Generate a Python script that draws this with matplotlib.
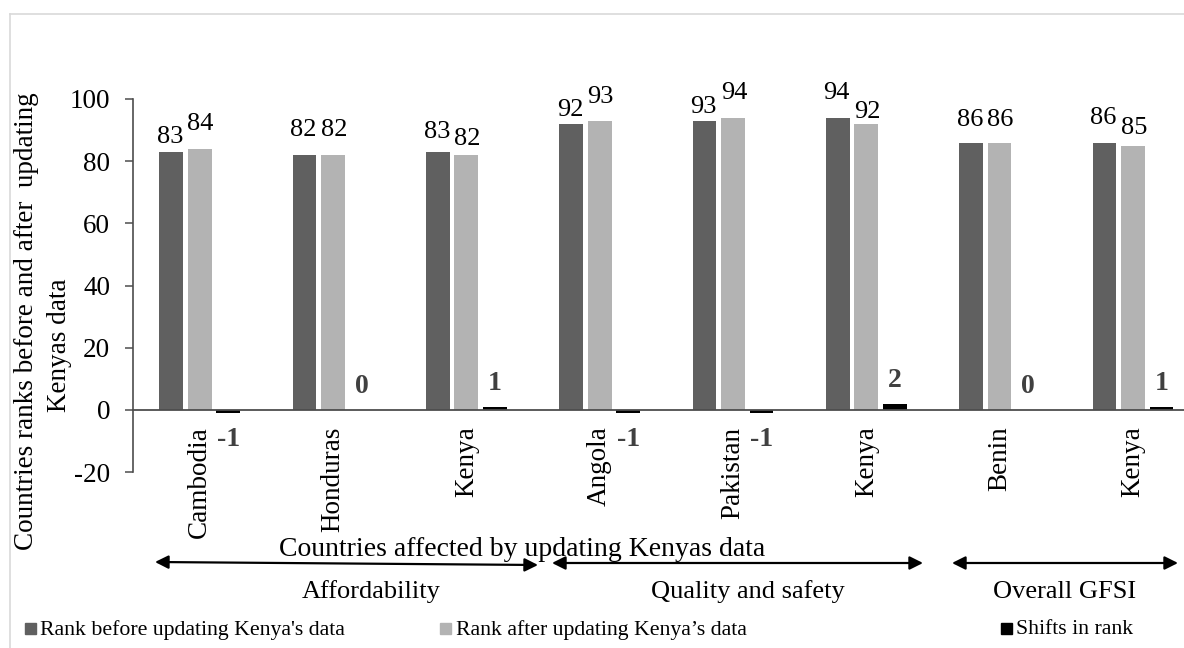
import matplotlib
matplotlib.use('Agg')
import matplotlib.pyplot as plt
from matplotlib.patches import Rectangle, FancyArrowPatch
from matplotlib.lines import Line2D

plt.rcParams['font.family'] = ['Liberation Serif', 'DejaVu Serif']
plt.rcParams['axes.unicode_minus'] = False

# ---------------- data ----------------
countries = ['Cambodia', 'Honduras', 'Kenya', 'Angola', 'Pakistan', 'Kenya', 'Benin', 'Kenya']
rank_before = [83, 82, 83, 92, 93, 94, 86, 86]
rank_after = [84, 82, 82, 93, 94, 92, 86, 85]
shifts = [-1, 0, 1, -1, -1, 2, 0, 1]
series_names = ["Rank before updating Kenya's data",
                "Rank after updating Kenya\u2019s data",
                "Shifts in rank"]
groups = ['Affordability', 'Quality and safety', 'Overall GFSI']
y_ticks = [-20, 0, 20, 40, 60, 80, 100]
x_title = 'Countries affected by updating Kenyas data'
y_title_lines = ['Countries ranks before and after  updating', 'Kenyas data']

# ---------------- style / layout ----------------
W, H, DPI = 1184, 648, 100
c_dark, c_light, c_black = '#606060', '#b3b3b3', '#000000'
axis_col = '#4d4d4d'
# gap (px) between bar top and label baseline (manually placed labels)
dark_gap = [9, 19, 14, 8, 8, 19, 17, 19]
light_gap = [19, 19, 10, 18, 19, 6, 17, 12]

fig = plt.figure(figsize=(W / DPI, H / DPI), dpi=DPI)


def fx(px):
    return px / W


def fy(py):
    return 1 - py / H


ax = fig.add_axes([fx(133), fy(472.2), (1199.6 - 133) / W, (472.2 - 99) / H])
for s in ['top', 'right']:
    ax.spines[s].set_visible(False)
ax.spines['bottom'].set_position(('data', 0))
ax.spines['bottom'].set_color(axis_col)
ax.spines['bottom'].set_linewidth(1.3)
ax.spines['left'].set_color(axis_col)
ax.spines['left'].set_linewidth(1.2)

x = list(range(len(countries)))
off = 0.214
bw = 0.178
ax.bar([i - off for i in x], rank_before, bw, color=c_dark, zorder=2)
ax.bar(x, rank_after, bw, color=c_light, zorder=2)
ax.bar([i + off for i in x], shifts, bw, color=c_black, zorder=2)

for i in x:
    ax.annotate(str(rank_before[i]), (i - off, rank_before[i]), xytext=(-1, dark_gap[i]),
                textcoords='offset pixels', ha='center', va='baseline', fontsize=19,
                annotation_clip=False)
    ax.annotate(str(rank_after[i]), (i, rank_after[i]), xytext=(1, light_gap[i]),
                textcoords='offset pixels', ha='center', va='baseline', fontsize=19,
                annotation_clip=False)
    dy = 17 if shifts[i] >= 0 else -33
    ax.annotate(str(shifts[i]), (i + off, shifts[i]), xytext=(0, dy),
                textcoords='offset pixels', ha='center', va='baseline', fontsize=20,
                fontweight='bold', color='#404040', annotation_clip=False)

ax.set_xlim(-0.5, len(countries) - 0.5)
ax.set_ylim(-20, 100)
ax.set_yticks(y_ticks)
ax.set_xticks(x)
ax.set_xticklabels(countries, rotation=90)
ax.tick_params(axis='x', length=0, pad=12, labelsize=19.5)
ax.tick_params(axis='y', length=6, width=1.1, color=axis_col, pad=10.5, labelsize=19.5)

# y axis title (two lines)
fig.text(fx(27), fy(321), y_title_lines[0], rotation=90, ha='center', va='center', fontsize=19.5)
fig.text(fx(59), fy(345), y_title_lines[1], rotation=90, ha='center', va='center', fontsize=19.5)

# x title and group arrows
fig.text(fx(522), fy(550), x_title, ha='center', va='center', fontsize=20)
arrows = [((155, 562), (538, 565)), ((552, 563), (923, 563)), ((952, 563), (1178, 563))]
for (a, b) in arrows:
    fig.add_artist(FancyArrowPatch(
        (fx(a[0]), fy(a[1])), (fx(b[0]), fy(b[1])), transform=fig.transFigure,
        arrowstyle='<|-|>', mutation_scale=20, color='black', lw=1.6,
        shrinkA=0, shrinkB=0))
group_x = [371, 748, 1065]
for g, gx in zip(groups, group_x):
    fig.text(fx(gx), fy(592), g, ha='center', va='center', fontsize=19)

# legend (manual)
leg_sq = [25, 440, 1001]
leg_tx = [40, 456, 1016]
for name, col, sx, tx in zip(series_names, [c_dark, c_light, c_black], leg_sq, leg_tx):
    fig.add_artist(Rectangle((fx(sx), fy(634)), 11 / W, 11 / H, transform=fig.transFigure,
                             color=col))
    fig.text(fx(tx), fy(630), name, ha='left', va='center', fontsize=15.7)

# chart border
fig.add_artist(Line2D([fx(10), 1.0], [fy(14), fy(14)], transform=fig.transFigure,
                      color='#d9d9d9', lw=1.2))
fig.add_artist(Line2D([fx(10), fx(10)], [fy(14), 0.0], transform=fig.transFigure,
                      color='#d9d9d9', lw=1.2))

fig.savefig('out.png', dpi=DPI)
